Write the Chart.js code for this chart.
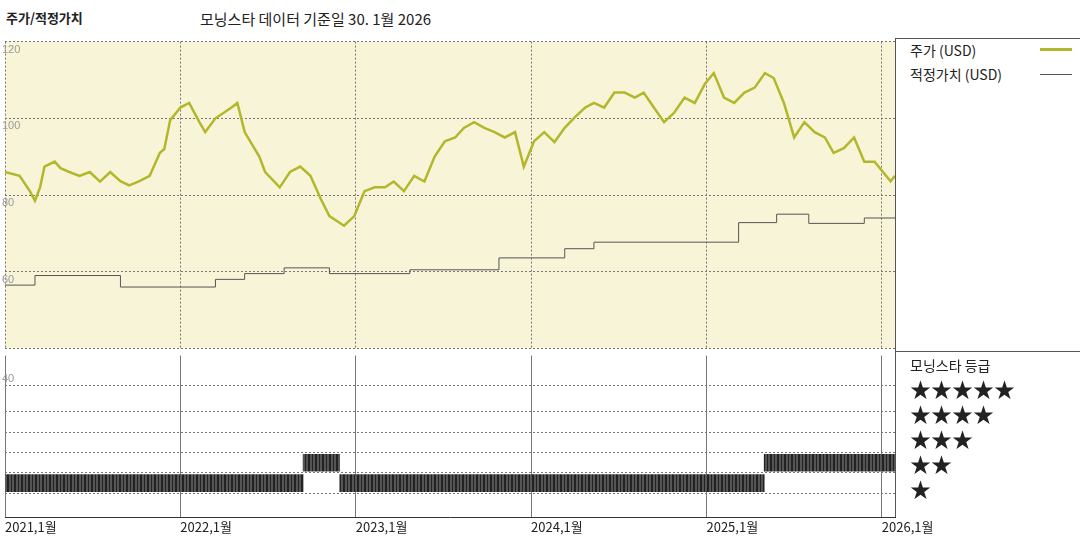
<!DOCTYPE html><html><head><meta charset="utf-8">
<script src="https://cdn.jsdelivr.net/npm/chart.js@4"></script>
<style>
body{margin:0;width:1080px;height:540px;position:relative;background:#fff;font-family:"Noto Sans CJK KR",sans-serif;overflow:hidden}
.t{position:absolute;white-space:nowrap;color:#222}
#c1{position:absolute;left:0;top:38px}
#c2{position:absolute;left:0;top:352px}
.hl{position:absolute;height:1px;background:#555}
.vl{position:absolute;width:1px;background:#555}
</style></head><body>
<div class="t" style="left:6px;top:8px;font-size:13px;font-weight:bold">주가/적정가치</div>
<div class="t" style="left:200px;top:8px;font-size:15px">모닝스타 데이터 기준일 30. 1월 2026</div>
<canvas id="c1" width="895" height="314"></canvas>
<canvas id="c2" width="1000" height="188"></canvas>
<div class="hl" style="left:895px;top:38px;width:185px"></div>
<div class="hl" style="left:895px;top:351px;width:185px"></div>
<div class="vl" style="left:895px;top:38px;height:479px"></div>
<div class="t" style="left:910px;top:40px;font-size:14px">주가 (USD)</div>
<div style="position:absolute;left:1040px;top:48px;width:32px;height:3px;background:#b3b72b"></div>
<div class="t" style="left:910px;top:64px;font-size:14px">적정가치 (USD)</div>
<div style="position:absolute;left:1040px;top:74px;width:32px;height:1px;background:#555"></div>
<div class="t" style="left:910px;top:355px;font-size:14px">모닝스타 등급</div>
<div class="t" style="left:910px;top:376px;font-size:21px;line-height:25px">★★★★★<br>★★★★<br>★★★<br>★★<br>★</div>
<script>
const priceMonths=[0,1,1.7,2.05,2.4,2.7,3.4,3.8,4.4,5.1,5.8,6.5,7.2,7.9,8.5,9.2,9.9,10.6,10.9,11.3,12,12.6,13.3,13.7,14.4,15.5,15.9,16.4,17.4,17.8,18.8,19.5,20.2,20.9,21.6,22.2,23.2,23.9,24.6,25.3,26,26.6,27.3,28,28.7,29.4,30.1,30.8,31.4,32.1,32.8,33.5,34.2,34.9,35.5,36.2,36.9,37.6,38.3,39,39.7,40.3,41,41.7,42.4,43.1,43.7,44.4,45.1,45.8,46.5,47.2,47.9,48.5,49.2,49.9,50.6,51.3,52,52.6,53.3,54,54.7,55.4,56.1,56.7,57.4,58.1,58.8,59.5,60.6,60.9];
const priceValues=[86,85,81,78.5,82,87.4,88.7,87,86,85,86,83.5,86,83.6,82.5,83.6,85,91,92,99.5,102.8,104,99,96.4,100,102.8,104,96.4,90,86,82,86,87.4,85,79,74.5,72,74.5,81,82,82,83.5,81,85,83.5,90,94,95,97.5,99,97.5,96.4,95,96.4,87.4,94,96.4,93.8,97.5,100.3,102.8,104,102.8,106.7,106.7,105.4,106.7,102.8,99,101.5,105.4,104,109,111.8,105.4,104,106.7,108,111.8,110.5,104,95,99,96.4,95,91,92.2,95,88.7,88.7,83.6,85,83.6,86,91,95];
const fvMonths=[0,2.05,7.9,14.4,16.4,19.1,22.2,27.7,33.8,38.3,40.3,50.2,52.8,55,58.8,60.9];
const fvValues=[56.5,59,56,58,59.5,61,59.5,60.5,63.6,66,67.7,72.8,75,72.6,74,74];
const ratingStart=[0,20.4,22.9,51.95];
const ratingEnd=[20.4,22.9,51.95,60.9];
const ratingStars=[1,2,1,2];
const yearTicks=[0,12,24,36,48,60];
const yearLabels=["2021,1월","2022,1월","2023,1월","2024,1월","2025,1월","2026,1월"];

const grid={color:'#777',lineWidth:1,drawTicks:false};
const brd={display:false,dash:[2,2]};
const xBase={type:'linear',min:0,max:60.9,grid:grid,border:brd,afterBuildTicks:a=>{a.ticks=yearTicks.map(v=>({value:v}));}};
const bgPlugin={id:'bg',beforeDraw(c){const a=c.chartArea,x=c.ctx;if(c.options.plugins.bg&&c.options.plugins.bg.color){x.save();x.fillStyle=c.options.plugins.bg.color;x.fillRect(a.left,a.top,a.right-a.left,a.bottom-a.top);x.restore();}}};
new Chart(document.getElementById('c1'),{type:'line',plugins:[bgPlugin],
data:{datasets:[
{data:priceMonths.map((m,i)=>({x:m,y:priceValues[i]})),borderColor:'#b3b72b',borderWidth:2.5,pointRadius:0,tension:0},
{data:fvMonths.map((m,i)=>({x:m,y:fvValues[i]})),borderColor:'#555',borderWidth:1,pointRadius:0,stepped:'before'}]},
options:{responsive:false,animation:false,layout:{padding:{left:5,top:0,right:0,bottom:0}},
plugins:{legend:{display:false},tooltip:{enabled:false},bg:{color:'#f8f4d8'}},
scales:{x:Object.assign({},xBase,{ticks:{display:false},afterFit:s=>{s.height=0}}),
y:{min:40,max:120,position:'left',grid:grid,border:brd,afterFit:s=>{s.width=0},
ticks:{stepSize:20,mirror:true,padding:-3,color:'#999',font:{size:11,family:'Liberation Sans'},callback:v=>v===40?'':v,labelOffset:8}}}}});
const stripes=(()=>{const p=document.createElement('canvas');p.width=7;p.height=4;const g=p.getContext('2d');g.fillStyle='#555';g.fillRect(0,0,7,4);g.fillStyle='#222';g.fillRect(0,0,2,4);g.fillRect(4,0,1,4);return g.createPattern(p,'repeat');})();
new Chart(document.getElementById('c2'),{type:'bar',
data:{datasets:[{data:ratingStars.map((r,i)=>({y:r,x:[ratingStart[i],ratingEnd[i]]})),backgroundColor:stripes,barThickness:17,borderSkipped:false}]},
options:{indexAxis:'y',responsive:false,animation:false,layout:{padding:{left:5,top:0,right:105,bottom:0}},
plugins:{legend:{display:false},tooltip:{enabled:false}},
scales:{x:Object.assign({},xBase,{border:{display:true,color:'#333'},afterFit:s=>{s.height=23},ticks:{align:'start',padding:2,color:'#222',font:{size:13,family:'Noto Sans CJK KR'},callback:(v)=>yearLabels[yearTicks.indexOf(v)]}}),
y:{type:'linear',min:0,max:6.6,grid:grid,border:brd,afterFit:s=>{s.width=0},afterBuildTicks:a=>{a.ticks=[1,2,3,4,5,6.6].map(v=>({value:v}));},
ticks:{mirror:true,padding:-3,color:'#999',font:{size:11,family:'Liberation Sans'},callback:v=>v===6.6?'40':'',labelOffset:10}}}}});
</script></body></html>
